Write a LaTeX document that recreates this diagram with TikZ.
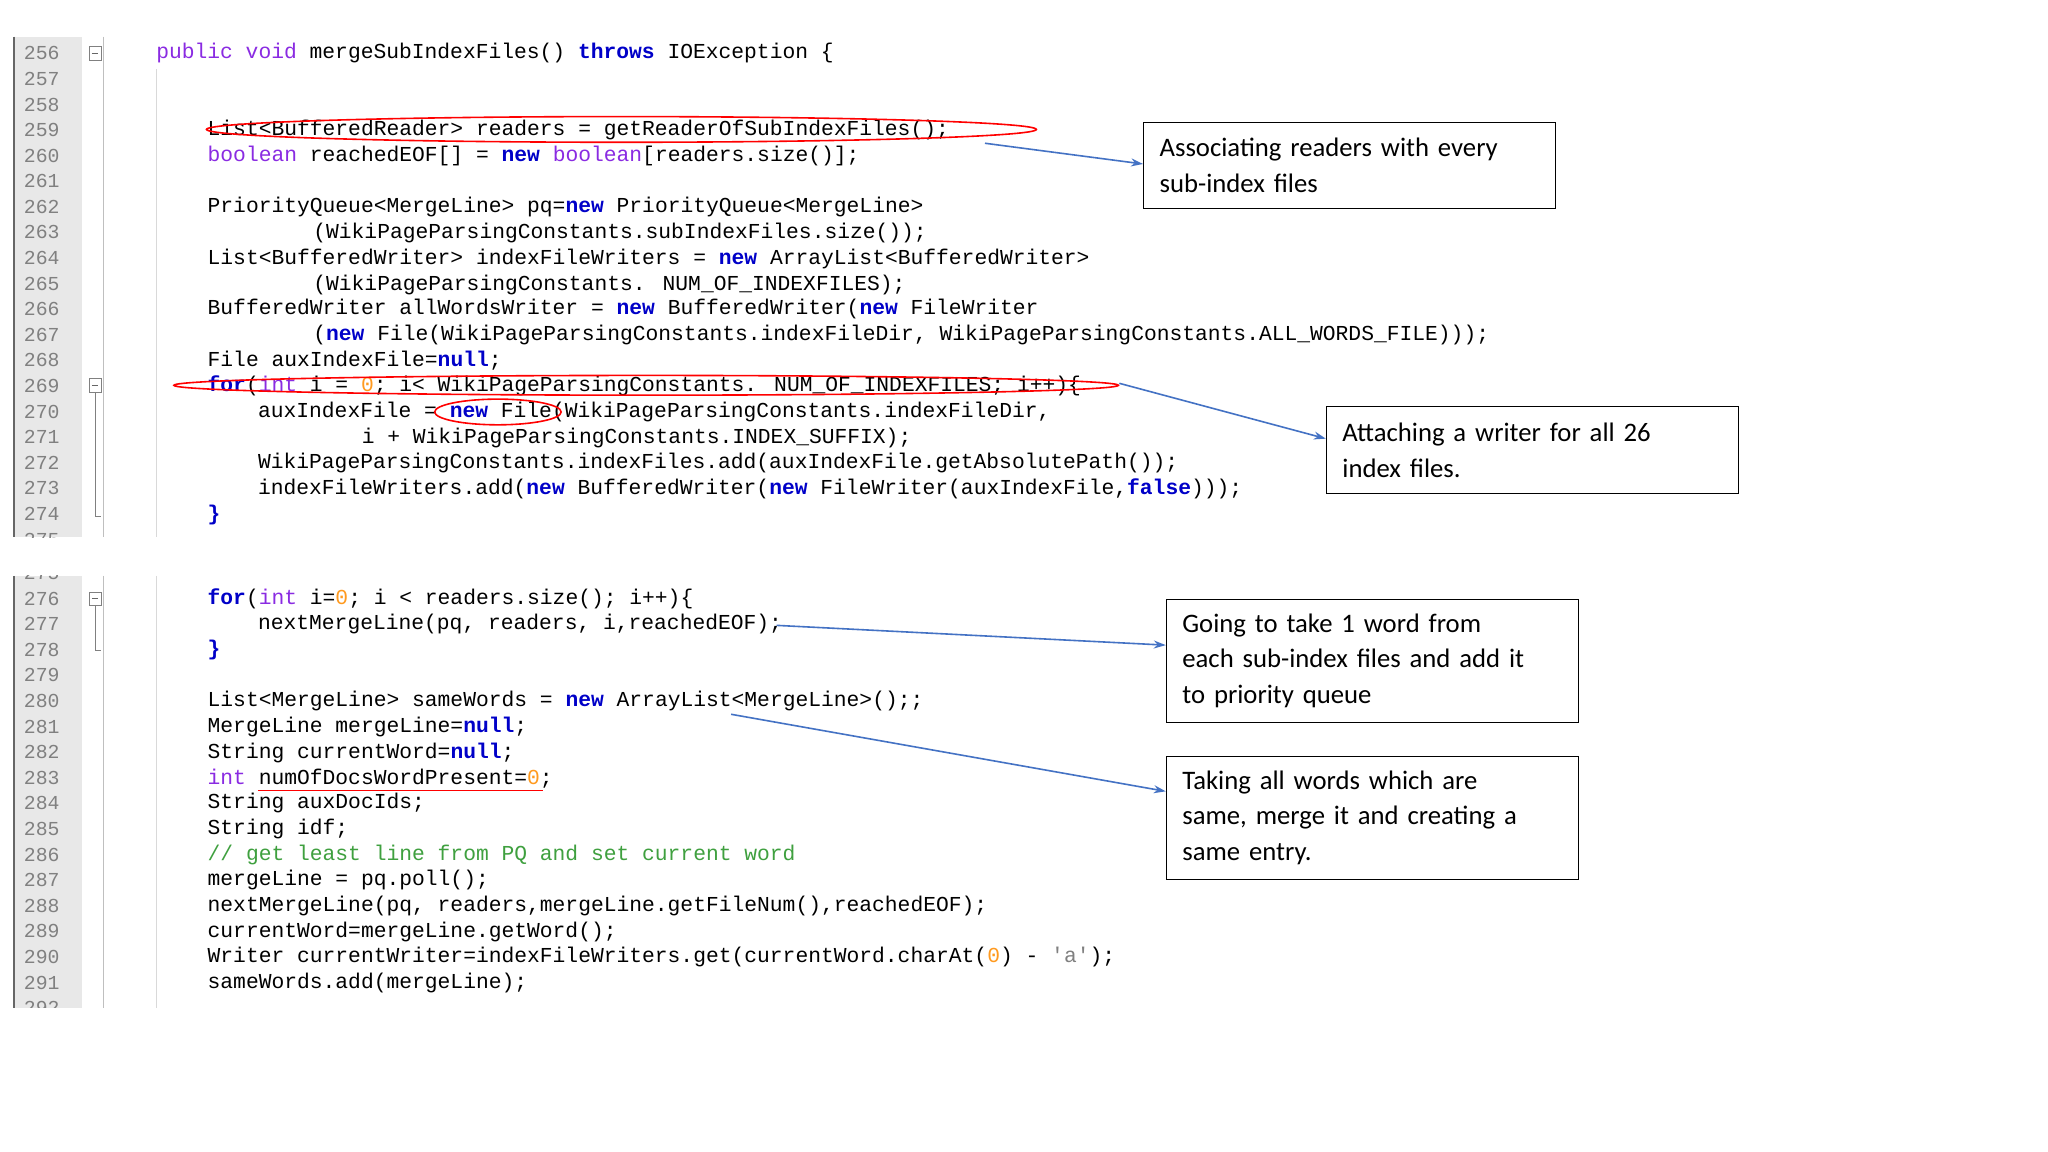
\documentclass[tikz,border=0pt]{standalone}
\usepackage{fontspec}
\usepackage{xcolor}
\setmainfont{Carlito}
\newfontfamily\codefont{Liberation Mono}
\usetikzlibrary{arrows.meta}
\definecolor{kwc}{HTML}{0000C8}
\definecolor{tyc}{HTML}{8A2BE2}
\definecolor{nmc}{HTML}{FF9A1F}
\definecolor{cmc}{HTML}{3FA03F}
\definecolor{stc}{HTML}{808080}
\definecolor{arc}{HTML}{4472C4}
\definecolor{gut}{HTML}{E8E8E8}
\newcommand\kw[1]{\textcolor{kwc}{\bfseries #1}}
\newcommand\ty[1]{\textcolor{tyc}{#1}}
\newcommand\nm[1]{\textcolor{nmc}{#1}}
\newcommand\cm[1]{\textcolor{cmc}{#1}}
\newcommand\sq[1]{\textcolor{stc}{#1}}
\tikzset{
  code/.style={anchor=west,inner sep=0pt,font=\codefont\fontsize{21.3}{26}\selectfont,text=black},
  lnum/.style={anchor=west,inner sep=0pt,font=\codefont\fontsize{19.8}{24}\selectfont,text=stc},
  note/.style={draw=black,line width=1.2pt,anchor=north west,align=left,inner xsep=16pt,inner ysep=6pt,font=\fontsize{26.7}{35.6}\selectfont,text width=380pt},
  conn/.style={draw=arc,line width=1.6pt,-{Stealth[length=12pt,width=8pt]}},
  redring/.style={draw=red,line width=1.6pt}
}
\begin{document}
\begin{tikzpicture}[x=0.988pt,y=-0.988pt]
\useasboundingbox[fill=white] (0,0) rectangle (2073,1166);
% gutters
\fill[gut] (14,37) rectangle (83,544);
\fill[gut] (14,583) rectangle (83,1020);
\draw[black!60,line width=1.5pt] (14,37) -- (14,544);
\draw[black!60,line width=1.5pt] (14,583) -- (14,1020);
\draw[black!25] (104,37) -- (104,544);
\draw[black!25] (104,583) -- (104,1020);
\draw[black!15] (158,70) -- (158,544);
\draw[black!15] (158,583) -- (158,1020);
\begin{scope}
\clip (14,37) rectangle (83,544);
\foreach \n in {256,...,275} \node[lnum] at (24,{54+(\n-256)*25.9}) {\n};
\end{scope}
\begin{scope}
\clip (14,583) rectangle (83,1020);
\node[lnum] at (24,{606-25.9}) {275};
\foreach \n in {276,...,292} \node[lnum] at (24,{606+(\n-276)*25.9}) {\n};
\end{scope}
% fold markers
\foreach \y in {54,390,606}{
  \draw[black!50,fill=white] (90,\y-7) rectangle (102,\y+7);
  \draw[black!60] (93,\y) -- (99,\y);
}
\draw[black!50] (96,397) -- (96,522) -- (102,522);
\draw[black!50] (96,613) -- (96,658) -- (102,658);
% code
\node[code] (c256) at (158,54) {\ty{public void} mergeSubIndexFiles() \kw{throws} IOException \{};
\node[code] (c259) at (210,132) {List<BufferedReader> readers = getReaderOfSubIndexFiles();};
\node[code] (c260) at (210,158) {\ty{boolean} reachedEOF[] = \kw{new} \ty{boolean}[readers.size()];};
\node[code] (c262) at (210,210) {PriorityQueue<MergeLine> pq=\kw{new} PriorityQueue<MergeLine>};
\node[code] (c263) at (317,236) {(WikiPageParsingConstants.subIndexFiles.size());};
\node[code] (c264) at (210,262) {List<BufferedWriter> indexFileWriters = \kw{new} ArrayList<BufferedWriter>};
\node[code] (c265) at (317,288) {(WikiPageParsingConstants. NUM\_OF\_INDEXFILES);};
\node[code] (c266) at (210,313) {BufferedWriter allWordsWriter = \kw{new} BufferedWriter(\kw{new} FileWriter};
\node[code] (c267) at (317,339) {(\kw{new} File(WikiPageParsingConstants.indexFileDir, WikiPageParsingConstants.ALL\_WORDS\_FILE)));};
\node[code] (c268) at (210,365) {File auxIndexFile=\kw{null};};
\node[code] (c269) at (210,391) {\kw{for}(\ty{int} i = \nm{0}; i< WikiPageParsingConstants. NUM\_OF\_INDEXFILES; i++)\{};
\node[code] (c270) at (261,417) {auxIndexFile = \kw{new} File(WikiPageParsingConstants.indexFileDir,};
\node[code] (c271) at (366,443) {i + WikiPageParsingConstants.INDEX\_SUFFIX);};
\node[code] (c272) at (261,469) {WikiPageParsingConstants.indexFiles.add(auxIndexFile.getAbsolutePath());};
\node[code] (c273) at (261,495) {indexFileWriters.add(\kw{new} BufferedWriter(\kw{new} FileWriter(auxIndexFile,\kw{false})));};
\node[code] (c274) at (210,521) {\kw{\}}};
\node[code] (c276) at (210,606) {\kw{for}(\ty{int} i=\nm{0}; i < readers.size(); i++)\{};
\node[code] (c277) at (261,632) {nextMergeLine(pq, readers, i,reachedEOF);};
\node[code] (c278) at (210,658) {\kw{\}}};
\node[code] (c280) at (210,710) {List<MergeLine> sameWords = \kw{new} ArrayList<MergeLine>();;};
\node[code] (c281) at (210,736) {MergeLine mergeLine=\kw{null};};
\node[code] (c282) at (210,762) {String currentWord=\kw{null};};
\node[code] (c283) at (210,788) {\ty{int} numOfDocsWordPresent=\nm{0};};
\node[code] (c284) at (210,813) {String auxDocIds;};
\node[code] (c285) at (210,839) {String idf;};
\node[code] (c286) at (210,865) {\cm{// get least line from PQ and set current word}};
\node[code] (c287) at (210,891) {mergeLine = pq.poll();};
\node[code] (c288) at (210,917) {nextMergeLine(pq, readers,mergeLine.getFileNum(),reachedEOF);};
\node[code] (c289) at (210,943) {currentWord=mergeLine.getWord();};
\node[code] (c290) at (210,969) {Writer currentWriter=indexFileWriters.get(currentWord.charAt(\nm{0}) - \sq{\char39 a\char39});};
\node[code] (c291) at (210,995) {sameWords.add(mergeLine);};
% red marks
\draw[redring] (629,131) ellipse [x radius=420, y radius=13];
\draw[redring] (654,390) ellipse [x radius=478, y radius=10];
\draw[redring] (504,417) ellipse [x radius=64, y radius=13];
\draw[red,line width=1.2pt] (261,800) -- (550,800);
% notes
\node[note,minimum height=86pt] (n1) at (1157,123) {Associating readers with every\\sub-index files};
\node[note,minimum height=87pt] (n2) at (1342,411) {Attaching a writer for all 26\\index files.};
\node[note,minimum height=123pt] (n3) at (1180,606) {Going to take 1 word from\\each sub-index files and add it\\to priority queue};
\node[note,minimum height=123pt] (n4) at (1180,765) {Taking all words which are\\same, merge it and creating a\\same entry.};
% connectors
\coordinate (a1) at (997,145);
\coordinate (a2) at (1133,388);
\coordinate (a3) at (786,633);
\coordinate (a4) at (740,723);
\draw[conn] (a1) -- (n1.west |- 0,166);
\draw[conn] (a2) -- (n2.west |- 0,444);
\draw[conn] (a3) -- (n3.west |- 0,653);
\draw[conn] (a4) -- (n4.west |- 0,801);
\end{tikzpicture}
\end{document}
